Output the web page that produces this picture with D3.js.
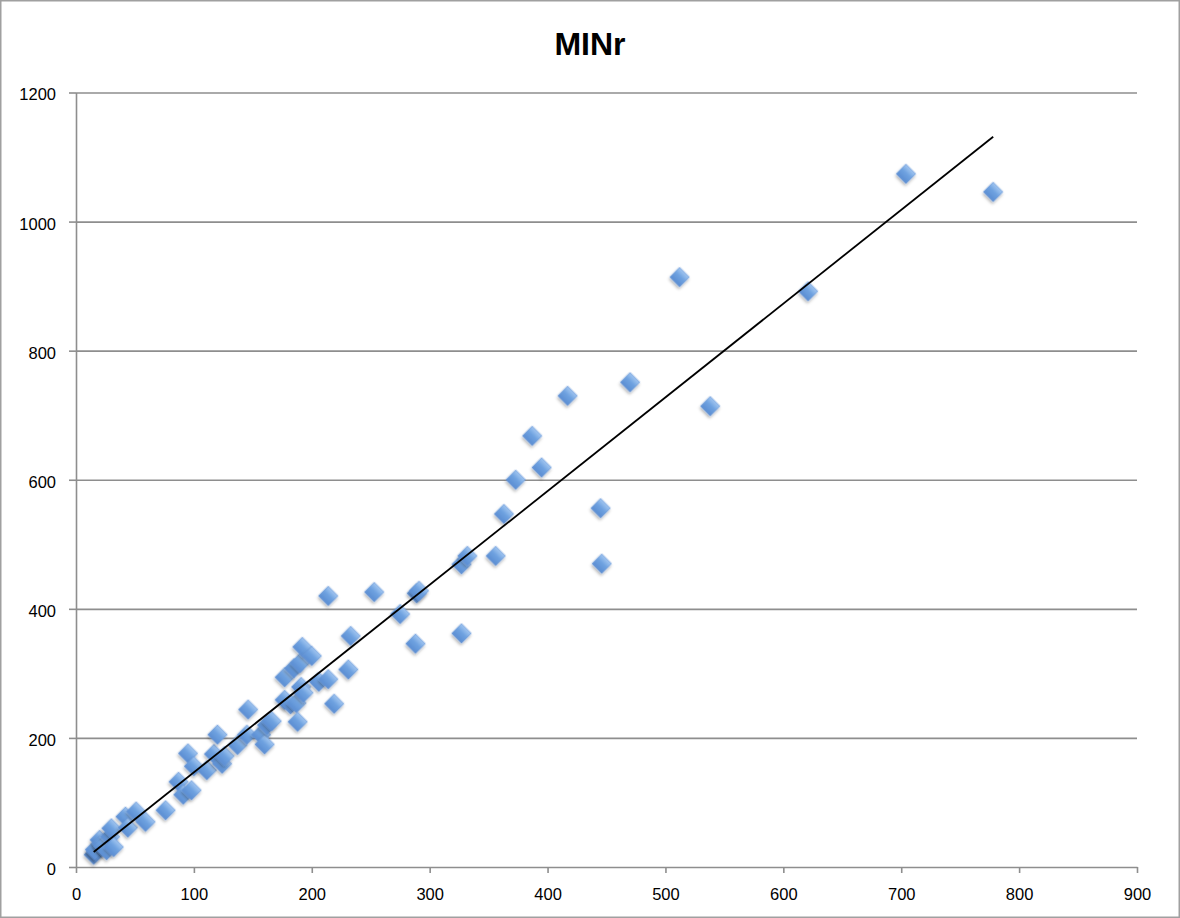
<!DOCTYPE html>
<html>
<head>
<meta charset="utf-8">
<script src="https://cdn.jsdelivr.net/npm/d3@7"></script>
<style>
  body { margin: 0; background: #fff; }
  svg { display: block; }
</style>
</head>
<body>
<div id="chart"></div>
<script>
// DATA
const chartTitle = "MINr"
const xTicks = [0, 100, 200, 300, 400, 500, 600, 700, 800, 900]
const yTicks = [0, 200, 400, 600, 800, 1000, 1200]

const xVals = [15, 17, 16, 20, 22, 23, 26, 29, 30, 32, 42, 44, 51, 59, 76,
  87, 91, 95, 98, 100, 111, 117, 120, 124, 126, 137, 145, 146, 157, 160, 162, 166,
  177, 177, 182, 185, 187, 188, 190, 191, 192, 193, 200, 206, 214, 214, 219, 231, 233, 253,
  275, 288, 289, 291, 327, 327, 332, 356, 363, 373, 387, 395, 417, 445, 446, 470,
  512, 538, 621, 704, 778]
const yVals = [19, 24, 27, 42, 36, 32, 26, 47, 60, 31, 78, 61, 86, 70, 88,
  132, 112, 176, 119, 156, 150, 175, 205, 160, 172, 189, 205, 244, 205, 190, 220, 226,
  294, 259, 252, 308, 254, 225, 316, 279, 341, 270, 327, 287, 291, 420, 253, 306, 358, 426,
  392, 346, 424, 428, 362, 469, 482, 482, 547, 600, 668, 619, 730, 556, 470, 751,
  914, 714, 892, 1074, 1046]

const data = xVals.map((x, i) => ({ x: x, y: yVals[i] }))

const width = 1180, height = 918

const svg = d3.select("#chart")
  .append("svg")
  .attr("width", width)
  .attr("height", height)

const defs = svg.append("defs")
const grad = defs.append("linearGradient")
  .attr("id", "dia")
  .attr("x1", 0).attr("y1", 0).attr("x2", 0).attr("y2", 1)
grad.append("stop").attr("offset", "0%").attr("stop-color", "#a2c6f0")
grad.append("stop").attr("offset", "45%").attr("stop-color", "#6fa2e0")
grad.append("stop").attr("offset", "100%").attr("stop-color", "#5a8dd2")

const shadow = defs.append("filter")
  .attr("id", "shadow")
  .attr("x", "-50%").attr("y", "-50%").attr("width", "200%").attr("height", "200%")
shadow.append("feDropShadow")
  .attr("dx", 1).attr("dy", 2)
  .attr("stdDeviation", 1.4)
  .attr("flood-color", "#000")
  .attr("flood-opacity", 0.3)

// outer frame
svg.append("rect")
  .attr("x", 0.75).attr("y", 0.75)
  .attr("width", width - 1.5).attr("height", height - 1.5)
  .attr("fill", "none")
  .attr("stroke", "#a0a0a0")
  .attr("stroke-width", 1.5)

// SCALES
const xScale = d3.scaleLinear()
  .domain([0, 900])
  .range([76, 1137])

const yScale = d3.scaleLinear()
  .domain([0, 1200])
  .range([867, 92.5])

// GRIDLINES
svg.append("g")
  .attr("class", "grid")
  .attr("transform", "translate(76,0)")
  .call(d3.axisLeft(yScale)
    .tickValues(yTicks.filter(d => d > 0))
    .tickSize(-(1137 - 76))
    .tickFormat(""))
  .call(g => g.select(".domain").remove())
  .selectAll(".tick line")
  .attr("stroke", "#8e8e8e")
  .attr("stroke-width", 1.6)

// AXES
svg.append("g")
  .attr("class", "yAxis")
  .attr("transform", "translate(76,0)")
  .call(d3.axisLeft(yScale)
    .tickValues(yTicks)
    .tickFormat(d3.format("d"))
    .tickSize(7)
    .tickPadding(13)
    .tickSizeOuter(0))
  .call(g => g.select(".domain").attr("stroke", "#8e8e8e").attr("stroke-width", 1.6))
  .call(g => g.selectAll(".tick line").attr("stroke", "#8e8e8e").attr("stroke-width", 1.6))
  .selectAll("text")
  .attr("dy", "0.45em")
  .attr("fill", "#000")
  .attr("font-size", 16.5)
  .attr("font-family", "'Liberation Sans', Arial, sans-serif")

svg.append("g")
  .attr("class", "xAxis")
  .attr("transform", "translate(0,867)")
  .call(d3.axisBottom(xScale)
    .tickValues(xTicks)
    .tickFormat(d3.format("d"))
    .tickSize(6)
    .tickPadding(15)
    .tickSizeOuter(0))
  .call(g => g.select(".domain").attr("stroke", "#8e8e8e").attr("stroke-width", 1.6))
  .call(g => g.selectAll(".tick line").attr("stroke", "#8e8e8e").attr("stroke-width", 1.6))
  .selectAll("text")
  .attr("fill", "#000")
  .attr("font-size", 16.5)
  .attr("font-family", "'Liberation Sans', Arial, sans-serif")

// TITLE
svg.append("text")
  .attr("x", 590)
  .attr("y", 55)
  .attr("text-anchor", "middle")
  .attr("font-size", 32)
  .attr("font-weight", "bold")
  .attr("font-family", "'Liberation Sans', Arial, sans-serif")
  .text(chartTitle)

// DRAW POINTS
svg.append("g")
  .selectAll("path")
  .data(data)
  .join("path")
    .attr("d", d3.symbol(d3.symbolSquare, 190))
    .attr("transform", d => `translate(${xScale(d.x)},${yScale(d.y)}) rotate(45)`)
    .attr("fill", "url(#dia)")
    .attr("stroke", "#6696d6")
    .attr("stroke-width", 0.6)
    .attr("stroke-linejoin", "round")
    .attr("filter", "url(#shadow)")

// LINEAR TREND (least squares on the points)
const mx = d3.mean(data, d => d.x)
const my = d3.mean(data, d => d.y)
const slope = d3.sum(data, d => (d.x - mx) * (d.y - my)) / d3.sum(data, d => (d.x - mx) ** 2)
const intercept = my - slope * mx
const [x0, x1] = d3.extent(data, d => d.x)

svg.append("path")
  .datum([x0, x1])
  .attr("d", d3.line().x(d => xScale(d)).y(d => yScale(slope * d + intercept)))
  .attr("stroke", "#000")
  .attr("stroke-width", 1.8)
  .attr("fill", "none")
</script>
</body>
</html>
